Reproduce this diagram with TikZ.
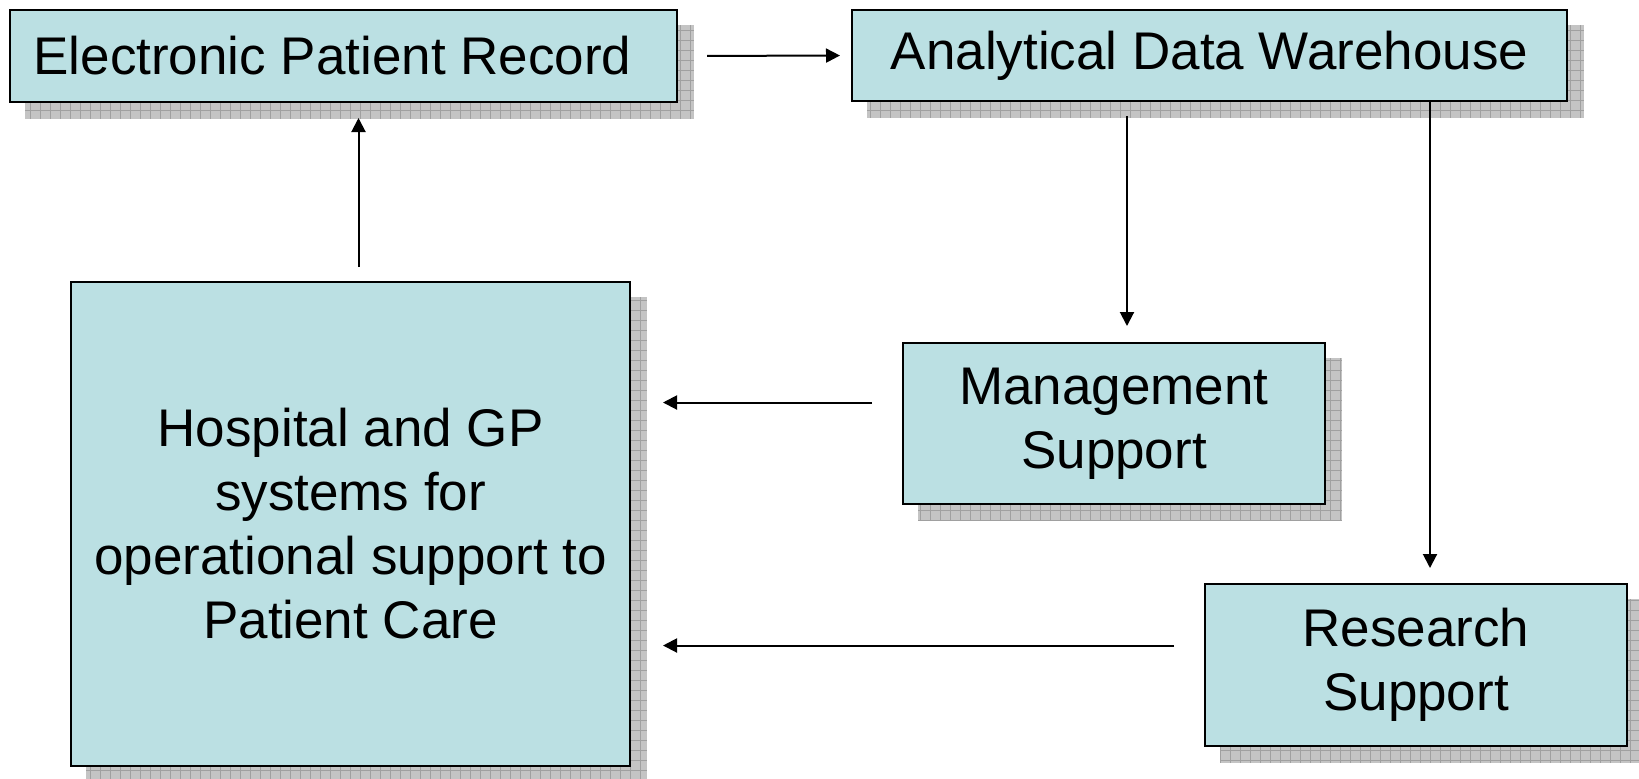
\documentclass[tikz,border=0pt]{standalone}
\usepackage{fontspec}
\setmainfont{Liberation Sans}
\usetikzlibrary{arrows.meta}
\usetikzlibrary{backgrounds}
\definecolor{boxfill}{RGB}{187,224,227}
\definecolor{shadefill}{RGB}{196,196,196}
\definecolor{shadegrid}{RGB}{160,160,160}
\tikzset{
	box/.style={draw=black, line width=1pt, fill=boxfill, align=center, inner sep=0pt,
		font=\fontsize{26.5pt}{32pt}\selectfont},
	arr/.style={line width=1pt, -{Triangle[length=7pt,width=7pt]}}
}
\newcommand{\boxshadow}[1] % node name
{
	\begin{scope}[on background layer]
		\begin{scope}
			% grey shadow, 8pt down and right
			\fill[shadefill] ([shift={(8pt,-8pt)}]#1.south west) rectangle ([shift={(8pt,-8pt)}]#1.north east);
			\clip ([shift={(8pt,-8pt)}]#1.south west) rectangle ([shift={(8pt,-8pt)}]#1.north east);
			% fine grid on top
			\draw[shadegrid, line width=0.5pt, step=5pt] ([shift={(8pt,-8pt)}]#1.south west) grid ([shift={(8pt,-8pt)}]#1.north east);
		\end{scope}
	\end{scope}
}

\begin{document}
\begin{tikzpicture}[x=0.5pt, y=-0.5pt]
	% 1639 x 778 px
	\useasboundingbox (0,0) rectangle (1639,778);
	\node[box, minimum width=333.5pt, minimum height=46pt] (epr) at (343.5,56) {Electronic Patient Record\hspace*{11pt}};
	\node[box, minimum width=357.5pt, minimum height=45.5pt] (adw) at (1209.5,55.5) {Analytical Data Warehouse};
	\node[box, minimum width=279.5pt, minimum height=242pt] (hosp) at (350.5,524) {Hospital and GP\\systems for\\operational support to\\Patient Care};
	\node[box, minimum width=211pt, minimum height=80.5pt] (mgmt) at (1114,423.5) {Management\\Support};
	\node[box, minimum width=211pt, minimum height=81pt] (res) at (1416,665) {Research\\Support};
	
	\boxshadow{epr};
	\boxshadow{adw};
	\boxshadow{hosp};
	\boxshadow{mgmt};
	\boxshadow{res};
	
	% data flow
	\draw[arr, shorten <=14.5pt, shorten >=5.5pt] (epr.east) -- (adw.west);
	\draw[arr, shorten <=7pt, shorten >=7.5pt] ([xshift=4pt]hosp.north) -- ([xshift=4pt]hosp.north |- epr.south);
	\draw[arr, shorten <=7pt, shorten >=8pt] ([xshift=6.5pt]mgmt.north |- adw.south) -- ([xshift=6.5pt]mgmt.north);
	\draw[arr, shorten >=7.5pt] ([xshift=7pt]res.north |- adw.south) -- ([xshift=7pt]res.north);
	\draw[arr, shorten <=15pt, shorten >=16pt] ([yshift=10.5pt]mgmt.west) -- ([yshift=10.5pt]mgmt.west -| hosp.east);
	\draw[arr, shorten <=15pt, shorten >=16pt] ([yshift=9.75pt]res.west) -- ([yshift=9.75pt]res.west -| hosp.east);
\end{tikzpicture}
\end{document}
